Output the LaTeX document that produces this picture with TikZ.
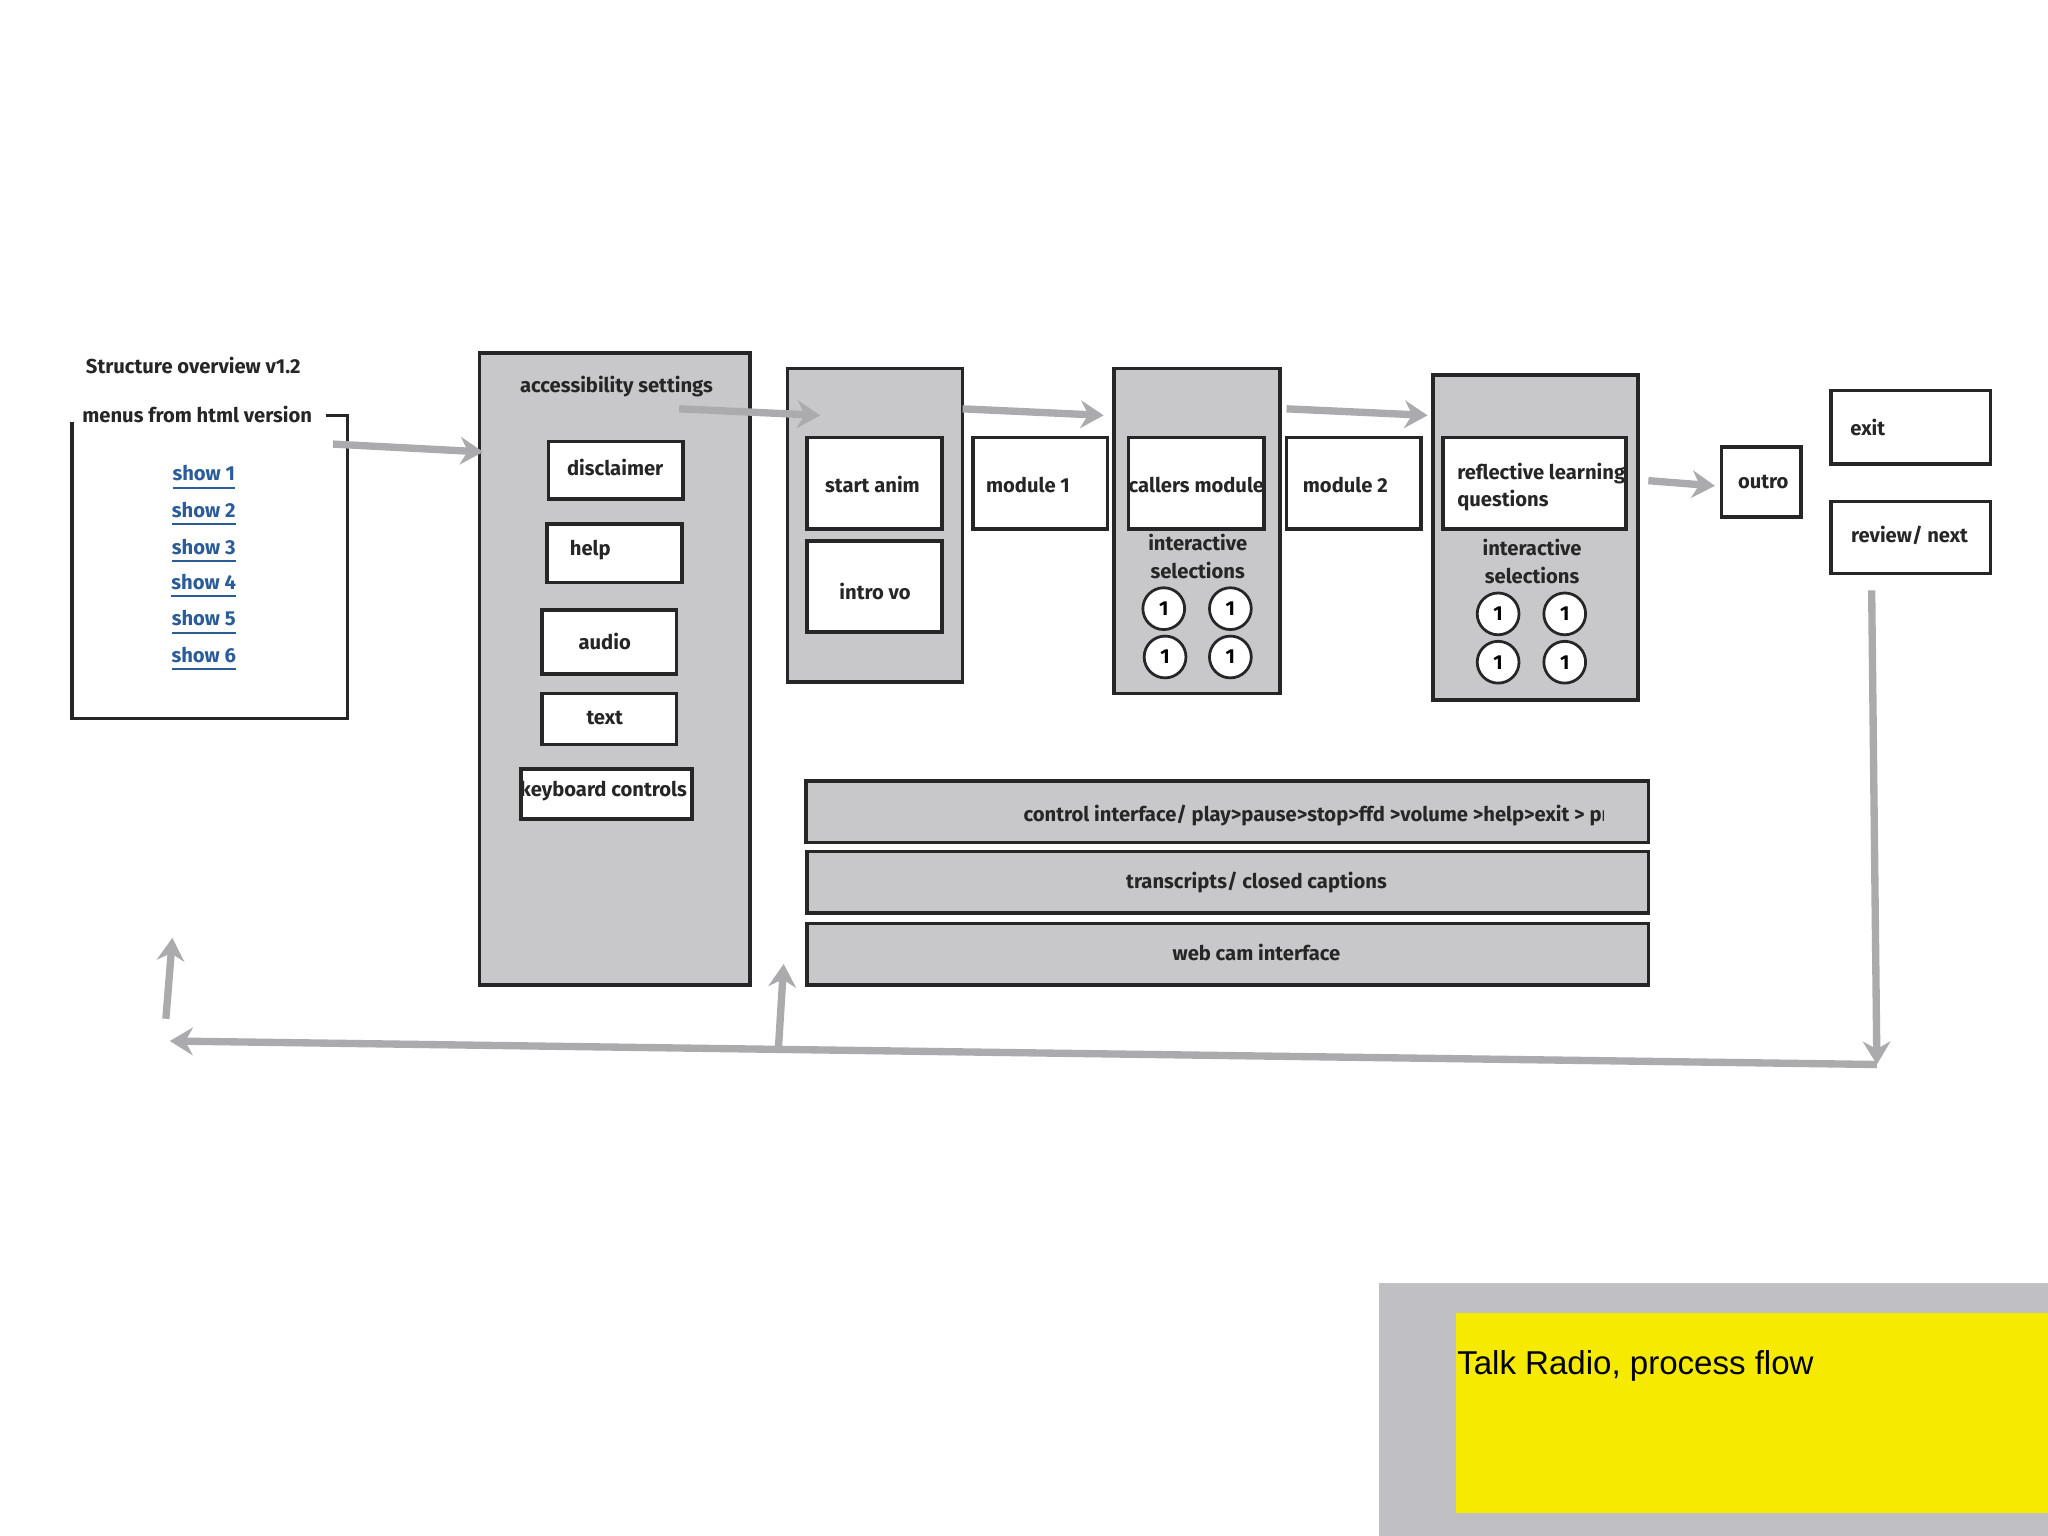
\documentclass[tikz,border=0pt]{standalone}
\usepackage{fontspec}
\setmainfont{Fira Sans}
\newfontfamily\notefont{Liberation Sans}
\usetikzlibrary{arrows.meta}
\definecolor{panel}{HTML}{C8C7CA}
\definecolor{arr}{HTML}{ABABAE}
\definecolor{lnk}{HTML}{2A5C9A}
\definecolor{yel}{HTML}{F5EA00}
\definecolor{grayb}{HTML}{C0BFC3}
\tikzset{
  pnl/.style={draw=black!85, line width=0.8pt, fill=panel},
  bx/.style={draw=black!85, line width=0.8pt, fill=white},
  lbl/.style={font=\fontsize{4.4}{5}\selectfont\bfseries, text=black!85, inner sep=0pt},
  flow/.style={draw=arr, line width=1.6pt, -{Stealth[length=5pt,width=6pt]}},
  lk/.style={font=\fontsize{4.4}{5}\selectfont\bfseries, text=lnk, inner sep=0pt},
  circ/.style={circle, draw=black!85, line width=0.6pt, fill=white, minimum size=3.2mm, inner sep=0pt, font=\fontsize{4.4}{5}\selectfont\bfseries},
  two/.style={align=center, font=\fontsize{4.4}{6}\selectfont\bfseries},
}
\begin{document}
\begin{tikzpicture}[x=0.1mm,y=-0.1mm]
\useasboundingbox (0,0) rectangle (1568,1176);
\fill[white] (0,0) rectangle (1568,1176);
% title and menu box
\node[lbl] (title) at (148,280) {Structure overview v1.2};
\draw[black!85, line width=0.8pt] (55,318) rectangle (266,550);
\node[lbl, fill=white, inner xsep=3pt] (menus) at (151,317) {menus from html version};
\foreach \i/\y in {1/366,2/394,3/422,4/449,5/477,6/505}
  \node[lk] (s\i) at (156,\y) {\underline{show \i}};
\coordinate (m1) at (255,340);
% accessibility panel
\draw[pnl] (367,270) rectangle (574,754);
\node[lbl] (acc) at (472,296) {accessibility settings};
\draw[bx] (420,338) rectangle (523,382); \node[lbl] (dis) at (471,358) {disclaimer};
\draw[bx] (419,401) rectangle (522,446); \node[lbl] (help) at (452,421) {help};
\draw[bx] (415,467) rectangle (518,516); \node[lbl] (aud) at (463,491) {audio};
\draw[bx] (415,531) rectangle (518,570); \node[lbl] (txt) at (463,550) {text};
\draw[bx] (399,589) rectangle (530,627); \node[lbl] (kbd) at (462,606) {keyboard controls};
\coordinate (accin) at (370,346);
\draw[flow] (m1) -- (accin);
% panel 2
\draw[pnl] (603,282) rectangle (737,522);
\draw[bx] (618,335) rectangle (721,405); \node[lbl] (sa) at (668,371) {start anim};
\draw[bx] (618,414) rectangle (721,484); \node[lbl] (iv) at (670,453) {intro vo};
\coordinate (a1) at (520,313); \coordinate (a1e) at (628,318);
\draw[flow] (a1) -- (a1e);
% module 1
\draw[bx] (745,335) rectangle (848,405); \node[lbl] (mod1) at (787,371) {module 1};
\coordinate (a2) at (737,313); \coordinate (a2e) at (845,318);
\draw[flow] (a2) -- (a2e);
% panel 3
\draw[pnl] (853,282) rectangle (980,531);
\draw[bx] (864,335) rectangle (968,405); \node[lbl] (cm) at (916,371) {callers module};
\node[lbl, two] (is1) at (917,426) {interactive\\selections};
\node[circ] (c1) at (891,466) {1}; \node[circ] (c2) at (942,466) {1};
\node[circ] (c3) at (892,503) {1}; \node[circ] (c4) at (942,503) {1};
% module 2
\draw[bx] (985,335) rectangle (1088,405); \node[lbl] (mod2) at (1030,371) {module 2};
\coordinate (a3) at (985,313); \coordinate (a3e) at (1093,318);
\draw[flow] (a3) -- (a3e);
% panel 4
\draw[pnl] (1097,287) rectangle (1254,536);
\draw[bx] (1105,335) rectangle (1245,405);
\node[lbl, two, align=left, anchor=west] (rl) at (1115,373) {reflective learning\\questions};
\node[lbl, two] (is2) at (1173,430) {interactive\\selections};
\node[circ] (d1) at (1147,470) {1}; \node[circ] (d2) at (1198,470) {1};
\node[circ] (d3) at (1147,507) {1}; \node[circ] (d4) at (1198,507) {1};
% outro
\coordinate (a4) at (1262,368); \coordinate (a4e) at (1313,372);
\draw[flow] (a4) -- (a4e);
\draw[bx] (1318,342) rectangle (1379,396); \node[lbl] (outro) at (1350,369) {outro};
% exit / review
\draw[bx] (1402,299) rectangle (1524,355); \node[lbl, anchor=west] (exit) at (1416,327) {exit};
\draw[bx] (1402,384) rectangle (1524,439); \node[lbl] (rev) at (1462,410) {review/ next};
% bars
\draw[pnl] (617,598) rectangle (1262,645);
\begin{scope}
\clip (617,598) rectangle (1228,645);
\node[lbl, anchor=west] (ci) at (783,624) {control interface/ play>pause>stop>ffd >volume >help>exit > progress};
\end{scope}
\draw[pnl] (618,652) rectangle (1262,699); \node[lbl] (tr) at (962,676) {transcripts/ closed captions};
\draw[pnl] (618,707) rectangle (1262,754); \node[lbl] (wc) at (962,729) {web cam interface};
% loop back
\coordinate (r1) at (1433,452); \coordinate (r2) at (1437,815);
\coordinate (l1) at (130,797);
\draw[flow] (r1) -- (r2);
\draw[flow] (r2) -- (l1);
\coordinate (u1) at (127,780); \coordinate (u1e) at (132,718);
\draw[flow] (u1) -- (u1e);
\coordinate (u2) at (596,802); \coordinate (u2e) at (600,738);
\draw[flow] (u2) -- (u2e);
% note
\fill[grayb] (1056,982) rectangle (1568,1176);
\fill[yel] (1115,1005) rectangle (1568,1158);
\node[anchor=west, inner sep=0pt, font=\notefont\fontsize{7.2}{9}\selectfont] (note) at (1115,1046) {Talk Radio, process flow};
\end{tikzpicture}
\end{document}
